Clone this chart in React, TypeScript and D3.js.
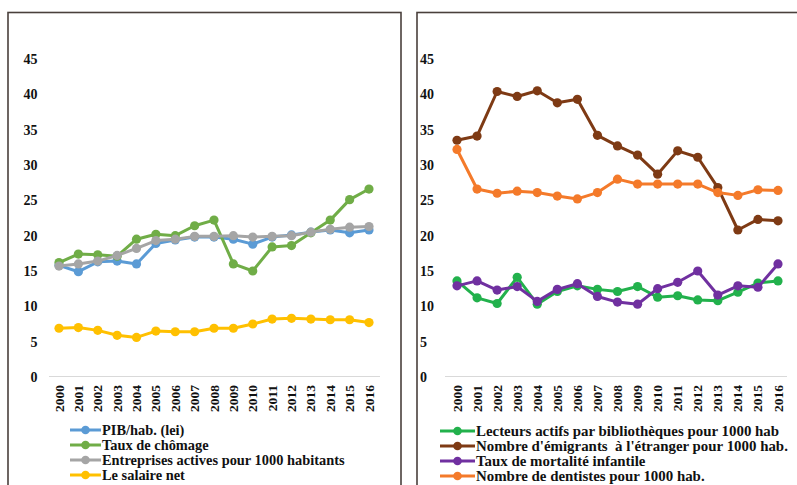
import React from "react";
import * as d3 from "d3";

const years = ["2000","2001","2002","2003","2004","2005","2006","2007","2008","2009","2010","2011","2012","2013","2014","2015","2016"];
const yTicks = [0, 5, 10, 15, 20, 25, 30, 35, 40, 45];

// Left panel series
const pibHab = [15.8,14.9,16.3,16.4,16.0,18.9,19.4,19.8,19.8,19.5,18.8,19.8,20.1,20.5,20.8,20.4,20.8];
const tauxChomage = [16.2,17.4,17.3,17.1,19.5,20.2,20.0,21.4,22.2,16.0,15.0,18.4,18.6,20.4,22.2,25.1,26.6];
const entreprises = [15.7,16.0,16.4,17.2,18.2,19.3,19.5,19.9,19.9,20.0,19.8,19.9,20.0,20.5,20.9,21.2,21.3];
const salaireNet = [6.9,7.0,6.6,5.9,5.6,6.5,6.4,6.4,6.9,6.9,7.5,8.2,8.3,8.2,8.1,8.1,7.7];

// Right panel series
const lecteurs = [13.6,11.2,10.4,14.1,10.3,12.1,12.9,12.4,12.1,12.8,11.3,11.5,10.9,10.8,12.0,13.3,13.6];
const emigrants = [33.5,34.1,40.4,39.7,40.5,38.8,39.3,34.2,32.7,31.4,28.7,32.0,31.1,26.8,20.8,22.3,22.1];
const mortalite = [12.9,13.6,12.3,12.8,10.7,12.4,13.2,11.4,10.6,10.3,12.5,13.4,15.0,11.6,12.9,12.7,16.0];
const dentistes = [32.2,26.6,26.0,26.3,26.1,25.6,25.2,26.1,28.0,27.3,27.3,27.3,27.3,26.1,25.7,26.5,26.4];

const leftSeries = [
  { name: "PIB/hab. (lei)", values: pibHab, color: "#5B9BD5" },
  { name: "Taux de chômage", values: tauxChomage, color: "#70AD47" },
  { name: "Entreprises actives pour 1000 habitants", values: entreprises, color: "#A5A5A5" },
  { name: "Le salaire net", values: salaireNet, color: "#FFC000" },
];

const rightSeries = [
  { name: "Lecteurs actifs par bibliothèques pour 1000 hab", values: lecteurs, color: "#22B14C" },
  { name: "Nombre d'émigrants  à l'étranger pour 1000 hab.", values: emigrants, color: "#7E3A14" },
  { name: "Taux de mortalité infantile", values: mortalite, color: "#7030A0" },
  { name: "Nombre de dentistes pour 1000 hab.", values: dentistes, color: "#F47A2A" },
];

const FONT = '"Liberation Serif", "Times New Roman", Times, "DejaVu Serif", serif';

type Series = { name: string; values: number[]; color: string };

function Panel(props: {
  series: Series[];
  frameX: number;
  frameW: number;
  xRange: [number, number];
  axisRange: [number, number];
  tickX: number;
  tickAnchor: "start" | "end";
  legendLine: [number, number];
  legendY: number;
  legendSize: number;
}) {
  const { series, frameX, frameW, xRange, axisRange, tickX, tickAnchor, legendLine, legendY, legendSize } = props;
  const x = d3.scalePoint<string>().domain(years).range(xRange);
  const y = d3.scaleLinear().domain([0, 45]).range([377, 59]);
  const line = d3
    .line<number>()
    .x((_, i) => x(years[i]) as number)
    .y((d) => y(d));

  const txt = { fontFamily: FONT, fontWeight: 700 as const };

  return (
    <g>
      <rect x={frameX} y={12.5} width={frameW} height={520} fill="#fff" stroke="#4a403c" strokeWidth={1.6} />
      <line x1={axisRange[0]} x2={axisRange[1]} y1={y(0) - 0.5} y2={y(0) - 0.5} stroke="#d9d9d9" strokeWidth={1} />
      {yTicks.map((t) => (
        <text
          key={t}
          x={tickX}
          y={y(t)}
          dy="0.35em"
          textAnchor={tickAnchor}
          style={{ ...txt, fontSize: 14 }}
          fill="#111"
        >
          {t}
        </text>
      ))}
      {years.map((yr) => (
        <text
          key={yr}
          transform={`translate(${(x(yr) as number) + 4.5},${385}) rotate(-90)`}
          textAnchor="end"
          style={{ ...txt, fontSize: 13.5 }}
          fill="#111"
        >
          {yr}
        </text>
      ))}
      {series.map((s) => (
        <g key={s.name}>
          <path d={line(s.values) as string} fill="none" stroke={s.color} strokeWidth={3} strokeLinejoin="round" />
          {s.values.map((v, i) => (
            <circle key={i} cx={x(years[i]) as number} cy={y(v)} r={4.6} fill={s.color} />
          ))}
        </g>
      ))}
      {series.map((s, i) => {
        const cy = legendY + i * 15;
        const mid = (legendLine[0] + legendLine[1]) / 2;
        return (
          <g key={"lg" + s.name}>
            <line x1={legendLine[0]} x2={legendLine[1]} y1={cy} y2={cy} stroke={s.color} strokeWidth={3} />
            <circle cx={mid} cy={cy} r={4.3} fill={s.color} />
            <text
              x={legendLine[1] + 1}
              y={cy}
              dy="0.35em"
              style={{ ...txt, fontSize: legendSize, whiteSpace: "pre" }}
              fill="#111"
            >
              {s.name}
            </text>
          </g>
        );
      })}
    </g>
  );
}

export default function App() {
  return (
    <svg
      width={797}
      height={485}
      style={{ position: "absolute", left: 0, top: 0, background: "#fff" }}
    >
      <rect x={0} y={0} width={797} height={485} fill="#fff" />
      <Panel
        series={leftSeries}
        frameX={8}
        frameW={393}
        xRange={[59, 369]}
        axisRange={[49, 380]}
        tickX={37.5}
        tickAnchor="end"
        legendLine={[70, 101]}
        legendY={430}
        legendSize={14.4}
      />
      <Panel
        series={rightSeries}
        frameX={417}
        frameW={400}
        xRange={[457, 778]}
        axisRange={[445, 787]}
        tickX={420}
        tickAnchor="start"
        legendLine={[440, 475]}
        legendY={431}
        legendSize={14.9}
      />
    </svg>
  );
}
